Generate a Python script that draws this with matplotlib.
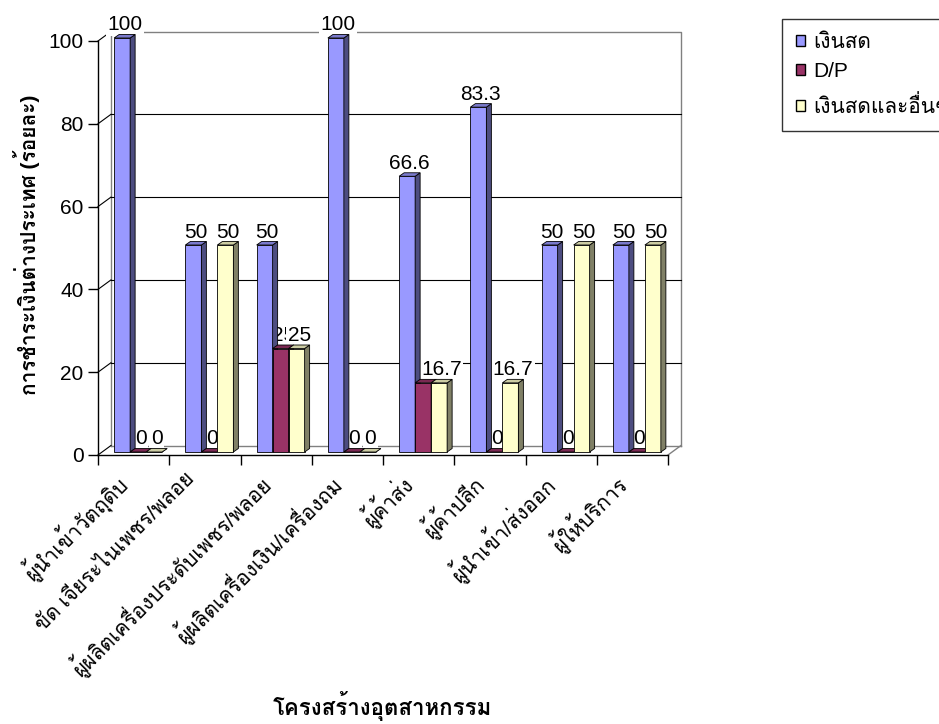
import numpy as np
import matplotlib
matplotlib.use("Agg")
import matplotlib.pyplot as plt
from matplotlib import font_manager
from matplotlib.ft2font import FT2Font
from matplotlib.patches import Polygon, Rectangle, Patch
from matplotlib.transforms import ScaledTranslation

# data
categories = ["ผู้นำเข้าวัตถุดิบ", "ขัด เจียระไนเพชร/พลอย", "ผู้ผลิตเครื่องประดับเพชร/พลอย",
              "ผู้ผลิตเครื่องเงิน/เครื่องถม", "ผู้ค้าส่ง", "ผู้ค้าปลีก", "ผู้นำเข้า/ส่งออก", "ผู้ให้บริการ"]
series_names = ["เงินสด", "D/P", "เงินสดและอื่นๆ"]
cash = [100, 50, 50, 100, 66.6, 83.3, 50, 50]
dp = [0, 0, 25, 0, 16.7, 0, 0, 0]
cash_other = [0, 50, 25, 0, 16.7, 16.7, 50, 50]
yticks = [0, 20, 40, 60, 80, 100]
ylabel = "การชำระเงินต่างประเทศ (ร้อยละ)"
xlabel = "โครงสร้างอุตสาหกรรม"

# front / side / top shades for each series
colors = [("#9999FF", "#4D4D80", "#7A7ACC"),
          ("#993366", "#4D1A33", "#7A2952"),
          ("#FFFFCC", "#808066", "#CCCCA3")]


def thai_families():
    found = []
    for f in font_manager.fontManager.ttflist:
        try:
            cmap = FT2Font(f.fname).get_charmap()
        except Exception:
            continue
        if 0x0E01 in cmap and f.name not in found:
            found.append(f.name)
    return found


thai = thai_families()
thai_font = "Loma" if "Loma" in thai else (thai[0] if thai else "DejaVu Sans")
plt.rcParams["font.family"] = ["Liberation Sans", thai_font, "DejaVu Sans"]

W, H = 939, 724
fig = plt.figure(figsize=(W / 100, H / 100), dpi=100)
ax = fig.add_axes([98 / W, 1 - 455 / H, 570 / W, 414 / H])
ax.set_xlim(0, 8)
ax.set_ylim(0, 100)

px_x = 8 / 570
px_y = 100 / 414
# wall depth
dx, dy = 13 * px_x, 9.5 * px_y
# bar placement inside the depth
ox, oy = 4.5 * px_x, 3 * px_y
bdx, bdy = 5 * px_x, 3.5 * px_y
bw = 16 * px_x

# back wall, floor and side wall edges
wall = "#808080"
ax.plot([dx, dx, 8 + dx, 8 + dx], [dy, 100 + dy, 100 + dy, dy], color=wall, lw=1, clip_on=False)
ax.plot([dx, 8 + dx], [dy, dy], color=wall, lw=1, clip_on=False)
ax.plot([8, 8 + dx], [0, dy], color=wall, lw=1, clip_on=False)
for t in yticks:
    ax.plot([0, dx], [t, t + dy], color="black", lw=0.8, clip_on=False)
    if 0 < t < 100:
        ax.plot([dx, 8 + dx], [t + dy, t + dy], color="black", lw=0.8, clip_on=False)


def bar3d(x, h, cols, z, zlab):
    front, side, top = cols
    y0 = oy
    kw = dict(closed=True, ec="black", lw=0.6, clip_on=False, zorder=z)
    ax.add_patch(Rectangle((x, y0), bw, h, fc=front, ec="black", lw=0.6, clip_on=False, zorder=z))
    ax.add_patch(Polygon([(x + bw, y0), (x + bw + bdx, y0 + bdy), (x + bw + bdx, y0 + h + bdy), (x + bw, y0 + h)],
                         fc=side, **kw))
    ax.add_patch(Polygon([(x, y0 + h), (x + bdx, y0 + h + bdy), (x + bw + bdx, y0 + h + bdy), (x + bw, y0 + h)],
                         fc=top, **kw))
    # value labels sit behind the bars, later series over earlier ones
    ax.text(x + bw / 2 + bdx / 2, y0 + h + bdy + 4 * px_y, "%g" % h, ha="center", va="baseline",
            fontsize=15, zorder=zlab, clip_on=False,
            bbox=dict(fc="white", ec="none", pad=1))


for i in range(len(categories)):
    start = i + 0.5 - 1.5 * bw + ox
    for k, vals in enumerate([cash, dp, cash_other]):
        bar3d(start + k * bw, vals[i], colors[k], 3 + k, 2.5 + 0.1 * k)

for s in ["top", "right"]:
    ax.spines[s].set_visible(False)
ax.spines["left"].set_linewidth(1)
ax.spines["bottom"].set_linewidth(1)
ax.set_yticks(yticks)
ax.tick_params(axis="y", direction="out", length=7.5, width=1, labelsize=15, pad=3)
ax.set_xticks(np.arange(0, 9))
ax.set_xticklabels([])
ax.tick_params(axis="x", which="major", direction="out", length=7.5, width=1)
ax.set_xticks(np.arange(len(categories)) + 0.5, minor=True)
ax.set_xticklabels(categories, minor=True, rotation=45, ha="right", va="top",
                   rotation_mode="anchor", fontsize=15)
ax.tick_params(axis="x", which="minor", length=0, pad=10)
for lab in ax.get_xticklabels(minor=True):
    lab.set_transform(lab.get_transform() + ScaledTranslation(-20 / 100, 0, fig.dpi_scale_trans))

ax.set_ylabel(ylabel, fontsize=15, fontweight="bold", va="center")
ax.yaxis.set_label_coords((27 - 98) / 570, (455 - 245) / 414)
ax.set_xlabel(xlabel, fontsize=16, fontweight="bold", va="center")
ax.xaxis.set_label_coords((382 - 98) / 570, (455 - 706) / 414)

handles = [Patch(fc=c[0], ec="black", lw=1) for c in colors]
leg = fig.legend(handles, series_names, loc="upper left", bbox_to_anchor=(782 / W, 1 - 19 / H),
                 frameon=True, fancybox=False, edgecolor="black", fontsize=15,
                 handlelength=0.45, handleheight=0.45, handletextpad=0.4, labelspacing=0.5,
                 borderpad=0.65, borderaxespad=0)
leg.get_frame().set_linewidth(1)

fig.savefig("out.png", dpi=100)
